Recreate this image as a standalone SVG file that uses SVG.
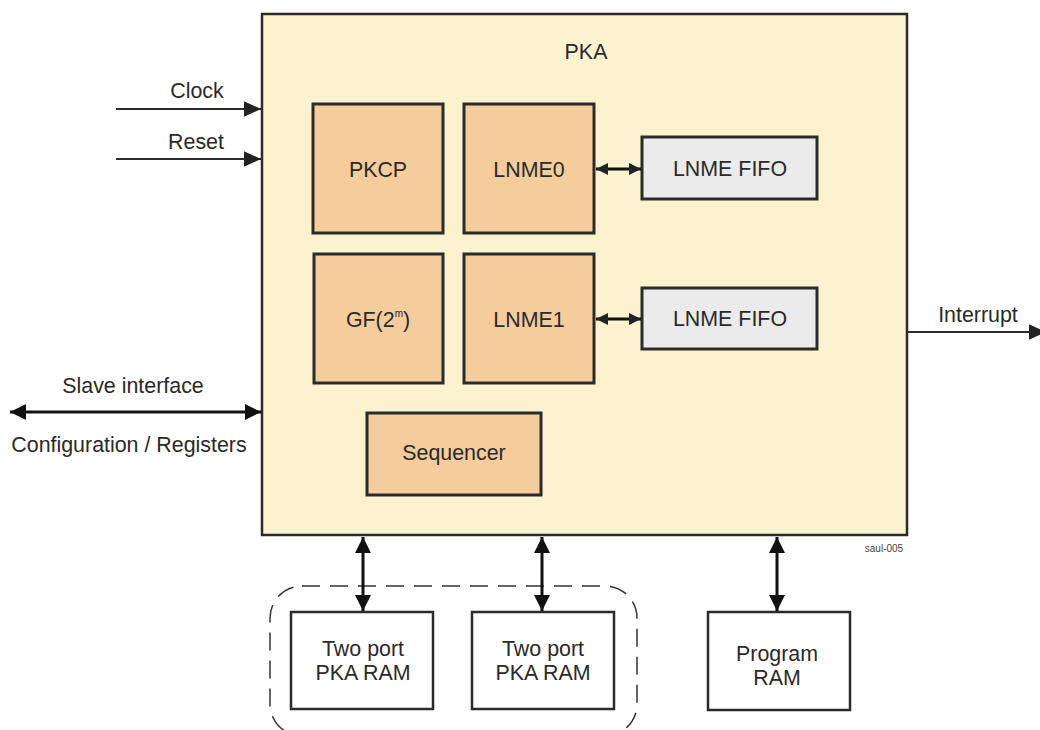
<svg xmlns="http://www.w3.org/2000/svg" width="1040" height="730" viewBox="0 0 1040 730">
<defs>
<style>
text{font-family:"Liberation Sans",Arial,sans-serif;font-size:21.4px;fill:#2a2a2a;text-anchor:middle}
.core{fill:#F5CC9B;stroke:#2b2b2b;stroke-width:3}
.fifo{fill:#EBEBEB;stroke:#2b2b2b;stroke-width:3}
.ram{fill:#fff;stroke:#2b2b2b;stroke-width:2.5}
.ln{stroke:#2b2b2b;stroke-width:2;fill:none}
.bl{stroke:#111;stroke-width:3;fill:none}
</style>
<marker id="ah1" viewBox="0 0 10 10" refX="10" refY="5" markerWidth="12" markerHeight="12" markerUnits="userSpaceOnUse" orient="auto-start-reverse"><path d="M0,0 L10,5 L0,10 z" fill="#222"/></marker>
<marker id="ah2" viewBox="0 0 10 10" refX="10" refY="5" markerWidth="16" markerHeight="16" markerUnits="userSpaceOnUse" orient="auto-start-reverse"><path d="M0,0 L10,5 L0,10 z" fill="#111"/></marker>
<marker id="ah3" viewBox="0 0 10 10" refX="10" refY="5" markerWidth="17" markerHeight="17" markerUnits="userSpaceOnUse" orient="auto-start-reverse"><path d="M0,0.5 L10,5 L0,9.5 z" fill="#222"/></marker>
</defs>
<rect width="1040" height="730" fill="#fff"/>
<g id="pka"><rect x="262" y="14" width="645" height="521" fill="#FBF2D0" stroke="#2b2b2b" stroke-width="2.5"/><text x="586" y="59">PKA</text></g>
<g id="pkcp"><rect class="core" x="313" y="104" width="130" height="129"/><text x="378" y="177">PKCP</text></g>
<g id="lnme0"><rect class="core" x="464" y="104" width="130" height="129"/><text x="529" y="177">LNME0</text></g>
<g id="gf"><rect class="core" x="314" y="254" width="129" height="129"/><text x="378" y="327">GF(2<tspan font-size="10" dy="-10">m</tspan><tspan dy="10">)</tspan></text></g>
<g id="lnme1"><rect class="core" x="464" y="254" width="130" height="129"/><text x="529" y="327">LNME1</text></g>
<g id="sequencer"><rect class="core" x="367" y="413" width="174" height="82"/><text x="454" y="460">Sequencer</text></g>
<g id="fifo0"><rect class="fifo" x="642" y="137" width="175" height="62"/><text x="730" y="176">LNME FIFO</text></g>
<g id="fifo1"><rect class="fifo" x="642" y="288" width="175" height="61"/><text x="730" y="326">LNME FIFO</text></g>
<g id="ramgroup"><rect x="270" y="586" width="367" height="150" rx="32" fill="none" stroke="#333" stroke-width="1.5" stroke-dasharray="18,10"/></g>
<g id="ram0"><rect class="ram" x="291" y="612" width="142" height="97"/><text x="363" y="656">Two port</text><text x="363" y="680">PKA RAM</text></g>
<g id="ram1"><rect class="ram" x="472" y="612" width="142" height="97"/><text x="543" y="656">Two port</text><text x="543" y="680">PKA RAM</text></g>
<g id="program"><rect class="ram" x="708" y="612" width="142" height="98"/><text x="777" y="661">Program</text><text x="777" y="685">RAM</text></g>
<g id="labels">
<text x="197" y="98">Clock</text>
<text x="196" y="149">Reset</text>
<text x="978" y="322">Interrupt</text>
<text x="133" y="393">Slave interface</text>
<text x="129" y="452">Configuration / Registers</text>
<text x="884" y="552" style="font-size:10px;fill:#444">saul-005</text>
</g>
<g id="connectors">
<line class="ln" x1="116" y1="109" x2="261" y2="109" marker-end="url(#ah3)"/>
<line class="ln" x1="116" y1="159" x2="261" y2="159" marker-end="url(#ah3)"/>
<line class="ln" x1="907" y1="332" x2="1046" y2="332" marker-end="url(#ah3)"/>
<line class="bl" x1="10" y1="412" x2="261" y2="412" marker-start="url(#ah2)" marker-end="url(#ah2)"/>
<line class="bl" x1="596" y1="169" x2="641" y2="169" marker-start="url(#ah1)" marker-end="url(#ah1)"/>
<line class="bl" x1="596" y1="319" x2="641" y2="319" marker-start="url(#ah1)" marker-end="url(#ah1)"/>
<line class="bl" x1="363" y1="537" x2="363" y2="611" marker-start="url(#ah2)" marker-end="url(#ah2)"/>
<line class="bl" x1="542" y1="537" x2="542" y2="611" marker-start="url(#ah2)" marker-end="url(#ah2)"/>
<line class="bl" x1="777" y1="537" x2="777" y2="611" marker-start="url(#ah2)" marker-end="url(#ah2)"/>
</g>
</svg>
